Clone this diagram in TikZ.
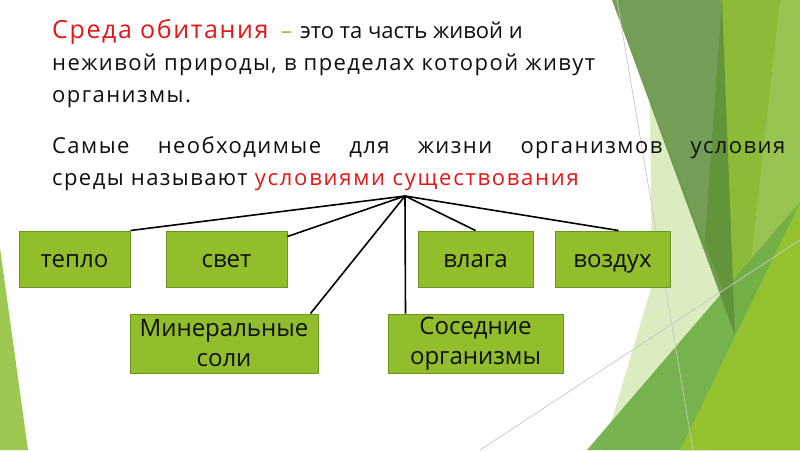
\documentclass[tikz,border=0pt]{standalone}
\usepackage{fontspec}
\setmainfont{Open Sans}
\newfontfamily\parafont[LetterSpace=6.5]{Open Sans}
\newfontfamily\redfont[LetterSpace=8]{Open Sans}
\usetikzlibrary{calc}
\definecolor{redc}{RGB}{228,22,22}
\definecolor{dashc}{RGB}{140,190,60}
\definecolor{textc}{RGB}{15,15,15}
\definecolor{boxfill}{RGB}{146,190,44}
\definecolor{boxdraw}{RGB}{108,148,36}
\definecolor{leftg}{RGB}{157,201,82}
\definecolor{darkg}{RGB}{92,142,58}
\definecolor{medg}{RGB}{113,176,72}
\definecolor{brightg}{RGB}{148,194,46}
\definecolor{ygreen}{RGB}{140,187,56}
\definecolor{paleg}{RGB}{218,236,192}
\definecolor{greyl}{RGB}{200,200,200}
\begin{document}
\begin{tikzpicture}[x=1pt,y=-1pt,
  box/.style={draw=boxdraw, line width=1pt, fill=boxfill, inner sep=0pt, align=center,
    font=\fontsize{24}{30}\selectfont, text=textc},
  onebox/.style={box, text height=20pt, text depth=4pt},
  link/.style={line width=1.6pt, black},
  para/.style={anchor=base west, inner sep=0pt, font=\parafont\fontsize{22}{32}\selectfont, text=textc}]
\useasboundingbox (0,0) rectangle (800,450);
\fill[white] (0,0) rectangle (800,450);
% background facets
\fill[leftg] (0,248) -- (28,450) -- (0,450) -- cycle;
\fill[ygreen] (722,0) -- (800,0) -- (800,450) -- (690,450) -- cycle;
\fill[white, opacity=0.12] (780,0) -- (800,0) -- (800,450) -- (730,450) -- cycle;
\fill[paleg] (650,100) -- (742,340) -- (705,450) -- (603,450) -- (652,285) -- cycle;
\fill[medg, opacity=0.95] (587,450) -- (800,202) -- (800,450) -- cycle;
\fill[brightg] (680,450) -- (800,203) -- (800,450) -- cycle;
\fill[darkg, opacity=0.85] (612,0) -- (722,0) -- (735,335) -- cycle;
\draw[greyl, line width=0.7pt] (617,0) -- (693,450);
\draw[greyl, line width=0.7pt] (480,450) -- (800,240);
% text
\node[para, font=\parafont\fontsize{25}{32}\selectfont, text=redc] (l1a) at (52,38) {Среда обитания};
\node[para, text=dashc] (l1b) at (281,38) {–};
\node[para, font=\fontsize{22}{32}\selectfont] (l1c) at (300,38) {это та часть живой и};
\node[para] (l2) at (52,70) {неживой природы, в пределах которой живут};
\node[para] (l3) at (52,102) {организмы.};
\node[para] (l4) at (52,153) {\hbox to 733pt{Самые\hfill необходимые\hfill для\hfill жизни\hfill организмов\hfill условия}};
\node[para] (l5) at (52,185) {среды называют {\redfont\color{redc}условиями существования}};
% boxes
\node[onebox, minimum width=111pt, minimum height=56pt] (teplo) at (74.5,259) {тепло};
\node[onebox, minimum width=121pt, minimum height=56pt] (svet) at (226.5,259) {свет};
\node[onebox, minimum width=115pt, minimum height=56pt] (vlaga) at (475.5,259) {влага};
\node[onebox, minimum width=115pt, minimum height=56pt] (vozduh) at (612.5,259) {воздух};
\node[box, minimum width=188pt, minimum height=59pt] (mineral) at (224,343.5) {Минеральные\\соли};
\node[box, minimum width=175pt, minimum height=59pt] (sosed) at (475.5,343.5) {Соседние\\организмы};
% connectors
\coordinate (hub) at (405,196);
\draw[link] (hub) -- (teplo.north east);
\draw[link] (hub) -- ($(svet.north east)+(0,6)$);
\draw[link] (hub) -- ($(mineral.north east)+(-8,0)$);
\draw[link] (hub) -- ($(sosed.north west)+(18,0)$);
\draw[link] (hub) -- (vlaga.north);
\draw[link] (hub) -- ($(vozduh.north)+(6,0)$);
\end{tikzpicture}
\end{document}
